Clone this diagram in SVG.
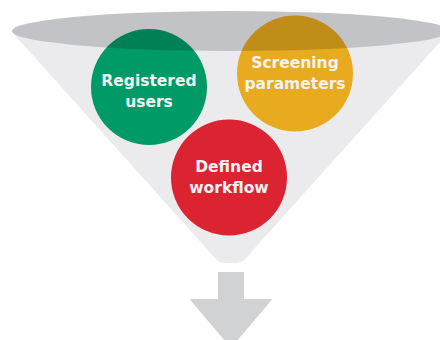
<svg xmlns="http://www.w3.org/2000/svg" width="440" height="340" viewBox="0 0 440 340">
  <style>
    .label { font-family: "DejaVu Sans", "Liberation Sans", sans-serif; font-weight: bold; font-size: 15.5px; fill: #f3f3f3; text-anchor: middle; }
    .shade { fill: #000000; fill-opacity: 0.17; }
  </style>
  <defs>
    <clipPath id="rimClip">
      <ellipse cx="230.5" cy="31" rx="218.5" ry="20"/>
    </clipPath>
  </defs>

  <!-- funnel body and rim -->
  <g id="funnel">
    <path d="M11,31 L207,249 Q217,263 224,263 L237,263 Q244,263 254,249 L450,31 Z" fill="#ebebed"/>
    <ellipse cx="230.5" cy="31" rx="218.5" ry="20" fill="#c2c3c6"/>
  </g>

  <g id="registered-users">
    <circle cx="149" cy="87" r="58" fill="#009a67"/>
    <circle class="shade" cx="149" cy="87" r="58" clip-path="url(#rimClip)"/>
    <text class="label" x="149" y="86">Registered</text>
    <text class="label" x="149" y="107">users</text>
  </g>

  <g id="screening-parameters">
    <circle cx="295" cy="73.5" r="58" fill="#e8aa1f"/>
    <circle class="shade" cx="295" cy="73.5" r="58" clip-path="url(#rimClip)"/>
    <text class="label" x="295" y="68">Screening</text>
    <text class="label" x="295" y="89">parameters</text>
  </g>

  <g id="defined-workflow">
    <circle cx="229" cy="177.5" r="58" fill="#dc2332"/>
    <text class="label" x="229" y="172">Defined</text>
    <text class="label" x="229" y="193">workflow</text>
  </g>

  <!-- output arrow -->
  <g id="connectors">
    <path d="M218,272 L244,272 L244,299 L272.5,299 L231,348 L189.5,299 L218,299 Z" fill="#d1d2d4"/>
  </g>
</svg>
